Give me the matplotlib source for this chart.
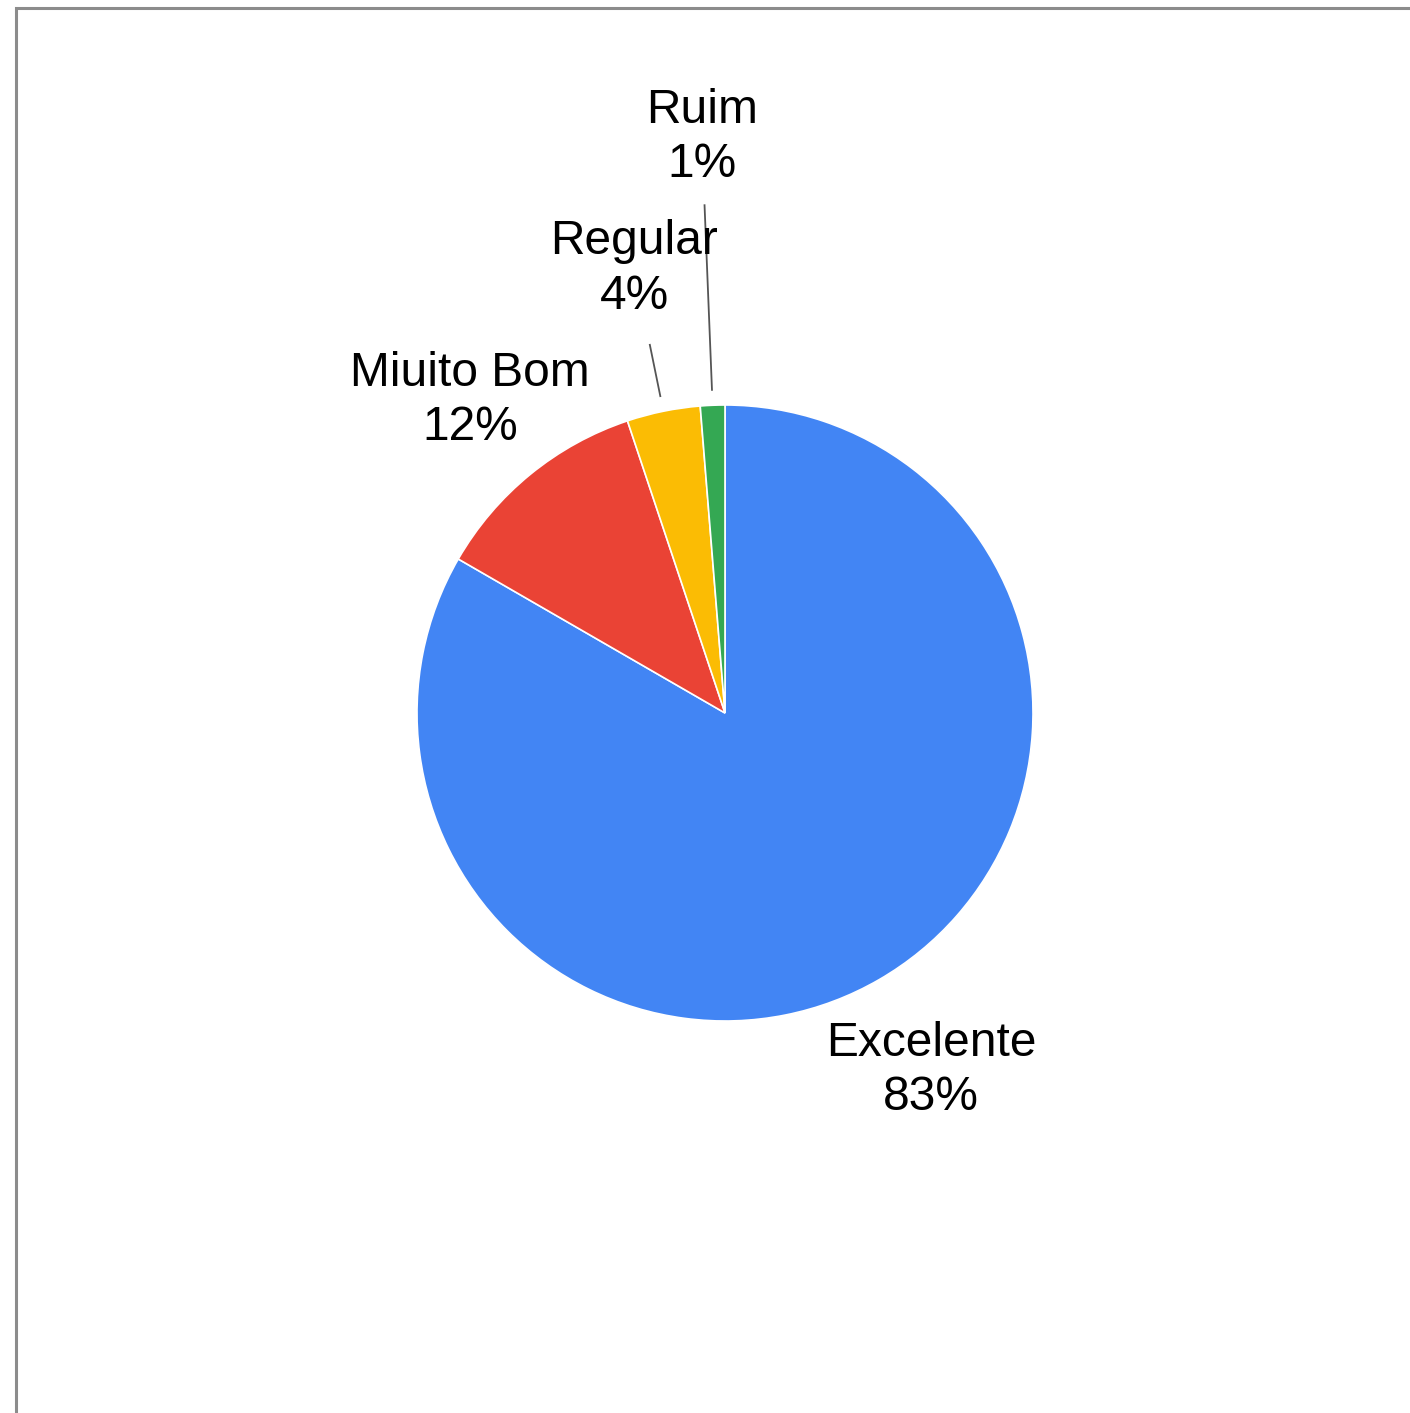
import numpy as np
import matplotlib
matplotlib.use("Agg")
import matplotlib.pyplot as plt
from matplotlib.patches import Rectangle

# survey answers (counts), order = clockwise from 12 o'clock
labels = ["Excelente", "Miuito Bom", "Regular", "Ruim"]
counts = [65, 9, 3, 1]
colors = ["#4285F4", "#EA4335", "#FBBC04", "#34A853"]

# label distance from centre (pie radius = 1), and leader lines for small slices
label_r = [1.34, 1.31, 1.47, 1.87]
leaders = {"Regular": (1.05, 1.22), "Ruim": (1.05, 1.65)}

W, H, dpi = 1410, 1413, 100
cx, cy, R = 725, 713, 308  # pie centre / radius in pixels

plt.rcParams['font.family'] = ['Liberation Sans', 'DejaVu Sans']
fig = plt.figure(figsize=(W / dpi, H / dpi), dpi=dpi, facecolor="white")
ax = fig.add_axes([0, 0, 1, 1])

wedges, _ = ax.pie(counts, colors=colors, startangle=90, counterclock=False,
                   radius=1, center=(0, 0),
                   wedgeprops=dict(edgecolor="white", linewidth=1.2))

# pie() resets limits, so fix them afterwards
ax.set_xlim(-cx / R, (W - cx) / R)
ax.set_ylim(-(H - cy) / R, cy / R)
ax.set_aspect("auto")
ax.axis("off")

total = float(sum(counts))
for w, lab, n, r in zip(wedges, labels, counts, label_r):
    mid = np.deg2rad((w.theta1 + w.theta2) / 2)
    dx, dy = np.cos(mid), np.sin(mid)
    pct = f"{round(100 * n / total):.0f}%"
    ax.text(r * dx, r * dy, f"{lab}\n{pct}", ha="center", va="center",
            fontsize=34.5, color="#000000", linespacing=1.28)
    if lab in leaders:
        r0, r1 = leaders[lab]
        ax.plot([r0 * dx, r1 * dx], [r0 * dy, r1 * dy], color="#555555", lw=1.3)

# chart frame (clipped on right and bottom like the screenshot)
fig.patches.append(Rectangle((16 / W, -0.05), 1.2, 1 - 8 / H + 0.05,
                             transform=fig.transFigure, fill=False,
                             edgecolor="#8c8c8c", linewidth=2.2))

fig.savefig("out.png", dpi=dpi, facecolor="white")
